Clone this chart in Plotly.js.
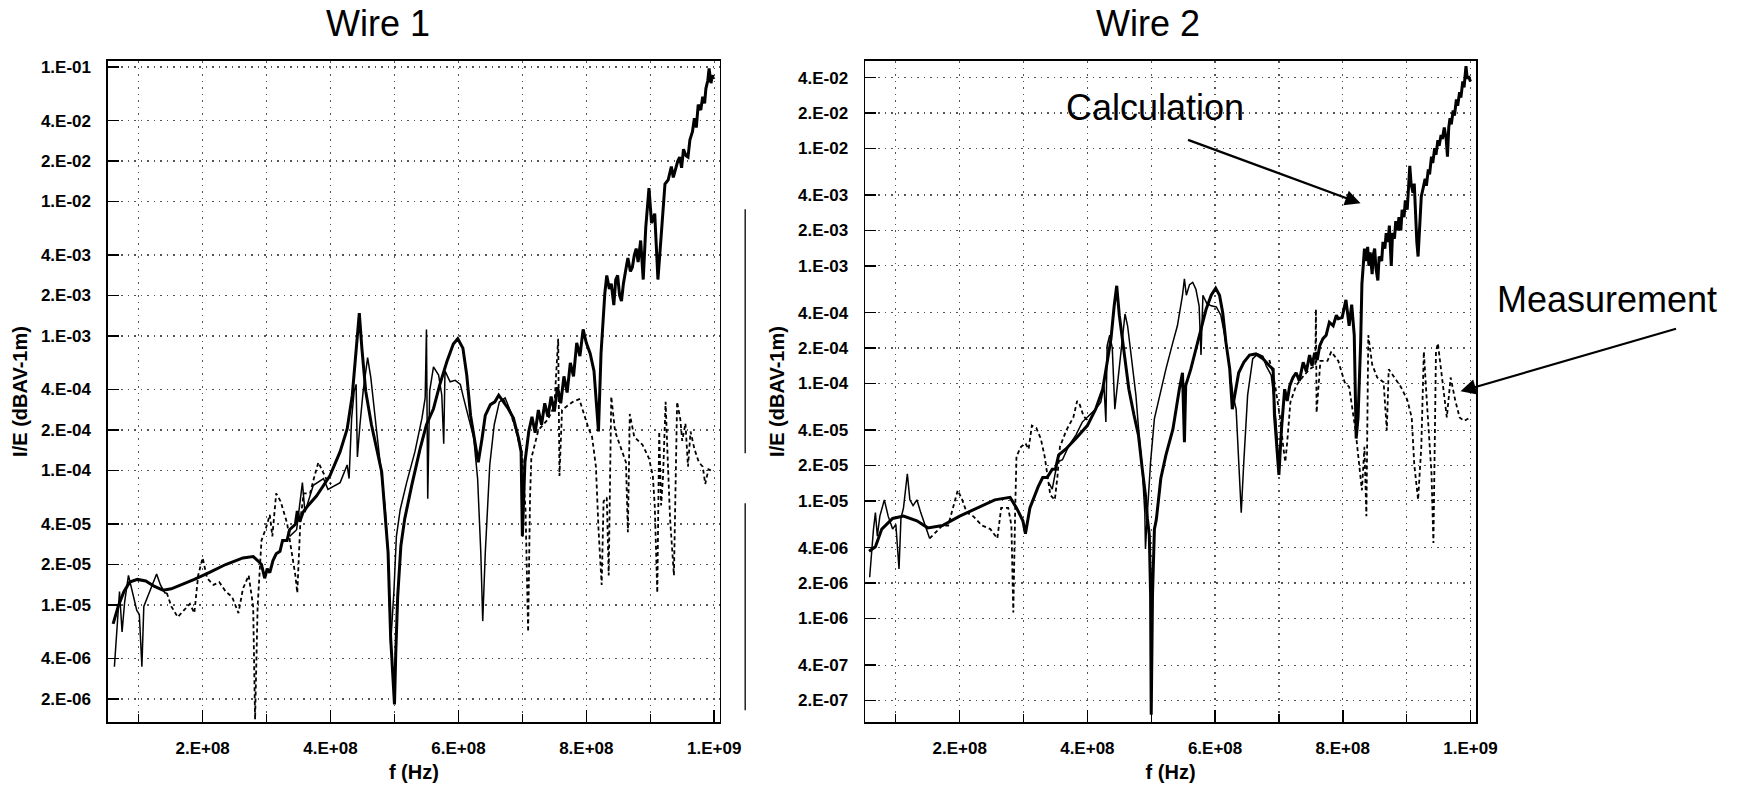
<!DOCTYPE html>
<html>
<head>
<meta charset="utf-8">
<script src="https://cdn.plot.ly/plotly-3.0.1.min.js"></script>
<style>html,body{margin:0;padding:0;background:#fff;}#chart{width:1742px;height:785px;}</style>
</head>
<body>
<div id="chart"></div>
<script>
// ---------- tick labels ----------
const xTickVals = [2e8, 4e8, 6e8, 8e8, 1e9];
const xTickText = ['2.E+08', '4.E+08', '6.E+08', '8.E+08', '1.E+09'];
const xMinorVals = [1e8, 3e8, 5e8, 7e8, 9e8];
const w1YTickVals = [1e-1, 4e-2, 2e-2, 1e-2, 4e-3, 2e-3, 1e-3, 4e-4, 2e-4, 1e-4, 4e-5, 2e-5, 1e-5, 4e-6, 2e-6];
const w1YTickText = ['1.E-01', '4.E-02', '2.E-02', '1.E-02', '4.E-03', '2.E-03', '1.E-03', '4.E-04', '2.E-04', '1.E-04', '4.E-05', '2.E-05', '1.E-05', '4.E-06', '2.E-06'];
const w2YTickVals = [4e-2, 2e-2, 1e-2, 4e-3, 2e-3, 1e-3, 4e-4, 2e-4, 1e-4, 4e-5, 2e-5, 1e-5, 4e-6, 2e-6, 1e-6, 4e-7, 2e-7];
const w2YTickText = ['4.E-02', '2.E-02', '1.E-02', '4.E-03', '2.E-03', '1.E-03', '4.E-04', '2.E-04', '1.E-04', '4.E-05', '2.E-05', '1.E-05', '4.E-06', '2.E-06', '1.E-06', '4.E-07', '2.E-07'];

// ---------- Wire 1 ----------
const w1CalcF = [0.60e8,0.68e8,0.77e8,0.86e8,0.98e8,1.11e8,1.24e8,1.38e8,1.51e8,1.67e8,1.87e8,2.10e8,2.36e8,2.63e8,2.79e8,2.86e8,2.92e8,2.97e8,3.01e8,3.05e8,3.10e8,3.15e8,3.21e8,3.25e8,3.32e8,3.36e8,3.45e8,3.48e8,3.52e8,3.57e8,3.65e8,3.78e8,3.88e8,3.99e8,4.15e8,4.26e8,4.34e8,4.41e8,4.45e8,4.49e8,4.55e8,4.64e8,4.73e8,4.80e8,4.85e8,4.90e8,4.94e8,4.97e8,5.00e8,5.02e8,5.05e8,5.10e8,5.16e8,5.27e8,5.40e8,5.50e8,5.61e8,5.71e8,5.82e8,5.92e8,5.99e8,6.07e8,6.13e8,6.19e8,6.26e8,6.31e8,6.37e8,6.42e8,6.50e8,6.57e8,6.63e8,6.71e8,6.78e8,6.86e8,6.94e8,6.98e8,7.00e8,7.04e8,7.10e8,7.15e8,7.20e8,7.25e8,7.30e8,7.35e8,7.40e8,7.45e8,7.50e8,7.55e8,7.60e8,7.65e8,7.70e8,7.75e8,7.80e8,7.85e8,7.90e8,7.95e8,8.00e8,8.06e8,8.12e8,8.19e8,8.23e8,8.29e8,8.32e8,8.36e8,8.39e8,8.43e8,8.46e8,8.49e8,8.52e8,8.55e8,8.58e8,8.62e8,8.65e8,8.69e8,8.72e8,8.75e8,8.78e8,8.81e8,8.85e8,8.89e8,8.93e8,8.98e8,9.02e8,9.07e8,9.12e8,9.17e8,9.23e8,9.28e8,9.33e8,9.36e8,9.39e8,9.43e8,9.46e8,9.49e8,9.52e8,9.56e8,9.59e8,9.62e8,9.66e8,9.69e8,9.72e8,9.75e8,9.79e8,9.82e8,9.85e8,9.87e8,9.90e8,9.92e8,9.95e8,9.97e8,9.99e8];
const w1CalcV = [7.24e-6,9.8e-6,1.26e-5,1.48e-5,1.55e-5,1.51e-5,1.38e-5,1.29e-5,1.32e-5,1.41e-5,1.55e-5,1.74e-5,2.0e-5,2.24e-5,2.29e-5,2.14e-5,2.0e-5,1.58e-5,1.86e-5,1.74e-5,2.14e-5,2.4e-5,2.51e-5,3.02e-5,3.02e-5,3.63e-5,3.98e-5,5.0e-5,4.17e-5,4.9e-5,5.5e-5,6.46e-5,7.59e-5,9.12e-5,1.38e-4,2.04e-4,3.63e-4,8.71e-4,1.48e-3,8.13e-4,3.89e-4,2.19e-4,1.38e-4,9.77e-5,4.9e-5,2.45e-5,5.75e-6,2.88e-6,1.82e-6,4.37e-6,1.15e-5,2.75e-5,4.37e-5,7.76e-5,1.45e-4,2.19e-4,2.88e-4,4.37e-4,6.46e-4,8.71e-4,9.55e-4,8.13e-4,5.13e-4,2.57e-4,1.55e-4,1.15e-4,1.74e-4,2.57e-4,3.09e-4,3.24e-4,3.63e-4,3.24e-4,2.88e-4,2.45e-4,1.74e-4,1.38e-4,3.24e-5,1.15e-4,1.95e-4,2.51e-4,1.91e-4,2.82e-4,2.19e-4,3.16e-4,2.51e-4,3.55e-4,2.75e-4,4.17e-4,3.16e-4,5.01e-4,3.8e-4,6.31e-4,5.01e-4,8.91e-4,7.08e-4,1.12e-3,8.91e-4,7.41e-4,5.5e-4,1.95e-4,7.41e-4,2.09e-3,2.82e-3,2.24e-3,2.45e-3,1.7e-3,2.63e-3,2.82e-3,2.0e-3,1.82e-3,2.45e-3,3.16e-3,3.8e-3,3.02e-3,3.24e-3,3.98e-3,4.47e-3,3.55e-3,5.13e-3,2.63e-3,6.46e-3,1.26e-2,6.92e-3,8.13e-3,2.63e-3,5.5e-3,1.35e-2,1.45e-2,1.82e-2,1.51e-2,1.7e-2,2.0e-2,2.14e-2,1.78e-2,2.45e-2,2.19e-2,2.14e-2,2.88e-2,3.31e-2,4.17e-2,3.55e-2,5.25e-2,4.79e-2,6.03e-2,5.37e-2,6.92e-2,7.94e-2,9.77e-2,7.59e-2,8.71e-2,8.13e-2];

const w1MeasF = [0.62e8,0.65e8,0.70e8,0.74e8,0.78e8,0.84e8,0.90e8,0.97e8,1.01e8,1.05e8,1.08e8,1.14e8,1.21e8,1.28e8,1.34e8,1.41e8,1.44e8,2.00e8,3.36e8,3.47e8,3.56e8,3.60e8,3.73e8,3.89e8,3.96e8,4.07e8,4.15e8,4.26e8,4.29e8,4.33e8,4.37e8,4.40e8,4.42e8,4.46e8,4.51e8,4.58e8,4.63e8,4.71e8,4.78e8,4.85e8,4.90e8,4.94e8,4.99e8,5.03e8,5.09e8,5.19e8,5.32e8,5.43e8,5.48e8,5.50e8,5.52e8,5.55e8,5.61e8,5.69e8,5.74e8,5.77e8,5.79e8,5.87e8,5.95e8,6.03e8,6.08e8,6.16e8,6.24e8,6.30e8,6.35e8,6.38e8,6.42e8,6.49e8,6.56e8,6.64e8,6.73e8,6.84e8,6.94e8,6.99e8];
const w1MeasV = [3.47e-6,5.75e-6,1.26e-5,6.31e-6,1.05e-5,1.66e-5,1.23e-5,9.12e-6,8.51e-6,3.47e-6,9.77e-6,1.15e-5,1.41e-5,1.7e-5,1.41e-5,1.23e-5,1.23e-5,null,3.24e-5,3.63e-5,8.13e-5,4.9e-5,7.76e-5,8.71e-5,7.24e-5,7.76e-5,8.13e-5,1.1e-4,8.71e-5,2.45e-4,3.89e-4,4.37e-4,1.26e-4,2.19e-4,3.89e-4,6.92e-4,4.9e-4,2.19e-4,1.15e-4,5.5e-5,2.45e-5,5.13e-6,1.23e-5,3.24e-5,5.13e-5,8.13e-5,1.38e-4,2.45e-4,3.47e-4,1.12e-3,6.17e-5,3.89e-4,5.89e-4,5.13e-4,3.63e-4,1.58e-4,5.5e-4,4.57e-4,4.68e-4,4.37e-4,3.47e-4,2.45e-4,1.74e-4,8.71e-5,2.45e-5,7.59e-6,2.45e-5,1.1e-4,2.19e-4,3.24e-4,3.47e-4,2.57e-4,1.74e-4,1.38e-4];

const w1DashF = [1.44e8,1.51e8,1.61e8,1.70e8,1.80e8,1.87e8,1.93e8,2.00e8,2.07e8,2.17e8,2.26e8,2.36e8,2.46e8,2.56e8,2.63e8,2.72e8,2.79e8,2.82e8,2.86e8,2.92e8,2.99e8,3.05e8,3.09e8,3.15e8,3.22e8,3.32e8,3.38e8,3.45e8,3.48e8,3.53e8,3.58e8,3.68e8,3.75e8,3.81e8,3.88e8,3.94e8,4.01e8,5.00e8,6.70e8,6.80e8,6.90e8,7.00e8,7.05e8,7.09e8,7.12e8,7.14e8,7.25e8,7.40e8,7.50e8,7.56e8,7.58e8,7.62e8,7.70e8,7.79e8,7.89e8,7.96e8,8.03e8,8.09e8,8.15e8,8.19e8,8.22e8,8.24e8,8.27e8,8.32e8,8.35e8,8.39e8,8.45e8,8.55e8,8.62e8,8.65e8,8.68e8,8.75e8,8.88e8,8.98e8,9.04e8,9.07e8,9.11e8,9.14e8,9.17e8,9.20e8,9.24e8,9.27e8,9.31e8,9.37e8,9.42e8,9.47e8,9.50e8,9.55e8,9.59e8,9.63e8,9.69e8,9.76e8,9.82e8,9.86e8,9.91e8,9.95e8];
const w1DashV = [1.23e-5,9.77e-6,8.13e-6,9.12e-6,1.02e-5,8.71e-6,1.66e-5,2.24e-5,1.58e-5,1.41e-5,1.48e-5,1.26e-5,1.15e-5,8.71e-6,1.32e-5,1.66e-5,9.77e-6,1.41e-6,9.77e-6,3.02e-5,3.72e-5,4.68e-5,3.24e-5,6.76e-5,5.89e-5,4.07e-5,2.75e-5,1.66e-5,1.23e-5,4.37e-5,6.76e-5,6.76e-5,9.12e-5,1.15e-4,9.77e-5,8.51e-5,7.94e-5,null,3.39e-4,2.82e-4,2.0e-4,1.26e-4,5.0e-5,6.31e-6,6.31e-5,1.23e-4,2.0e-4,2.4e-4,3.02e-4,9.55e-4,9.12e-5,2.82e-4,3.02e-4,3.24e-4,3.39e-4,2.63e-4,2.09e-4,1.78e-4,1.07e-4,3.72e-5,2.04e-5,1.41e-5,5.89e-5,6.31e-5,1.66e-5,3.55e-4,1.95e-4,1.45e-4,1.15e-4,3.47e-5,2.63e-4,1.78e-4,1.55e-4,1.23e-4,9.12e-5,5.5e-5,1.23e-5,1.95e-4,5.5e-5,9.12e-5,3.24e-4,1.32e-4,4.37e-5,1.66e-5,3.24e-4,2.4e-4,1.66e-4,2.24e-4,1.07e-4,1.95e-4,1.45e-4,1.15e-4,1.07e-4,7.94e-5,1.02e-4,1.0e-4];

// ---------- Wire 2 ----------
const w2CalcF = [0.58e8,0.68e8,0.78e8,0.95e8,1.12e8,1.33e8,1.50e8,1.73e8,2.00e8,2.28e8,2.55e8,2.79e8,2.89e8,2.99e8,3.03e8,3.10e8,3.23e8,3.30e8,3.37e8,3.45e8,3.50e8,3.55e8,3.66e8,3.82e8,4.00e8,4.13e8,4.24e8,4.31e8,4.37e8,4.42e8,4.46e8,4.50e8,4.58e8,4.65e8,4.73e8,4.80e8,4.86e8,4.91e8,4.94e8,4.97e8,4.99e8,5.00e8,5.02e8,5.05e8,5.08e8,5.15e8,5.23e8,5.34e8,5.44e8,5.49e8,5.52e8,5.54e8,5.62e8,5.70e8,5.78e8,5.86e8,5.94e8,6.01e8,6.07e8,6.12e8,6.17e8,6.23e8,6.27e8,6.30e8,6.37e8,6.45e8,6.54e8,6.64e8,6.75e8,6.85e8,6.91e8,6.93e8,6.97e8,7.00e8,7.04e8,7.09e8,7.13e8,7.17e8,7.22e8,7.27e8,7.32e8,7.38e8,7.43e8,7.48e8,7.52e8,7.56e8,7.60e8,7.64e8,7.69e8,7.74e8,7.79e8,7.85e8,7.90e8,7.93e8,7.99e8,8.05e8,8.10e8,8.14e8,8.18e8,8.21e8,8.24e8,8.28e8,8.30e8,8.32e8,8.34e8,8.37e8,8.39e8,8.41e8,8.43e8,8.46e8,8.48e8,8.50e8,8.52e8,8.55e8,8.57e8,8.61e8,8.63e8,8.66e8,8.68e8,8.71e8,8.73e8,8.76e8,8.78e8,8.81e8,8.83e8,8.86e8,8.88e8,8.91e8,8.93e8,8.96e8,8.98e8,9.01e8,9.03e8,9.05e8,9.07e8,9.10e8,9.12e8,9.14e8,9.16e8,9.18e8,9.21e8,9.23e8,9.26e8,9.29e8,9.31e8,9.34e8,9.36e8,9.39e8,9.41e8,9.44e8,9.46e8,9.49e8,9.51e8,9.54e8,9.56e8,9.59e8,9.62e8,9.64e8,9.66e8,9.68e8,9.70e8,9.73e8,9.75e8,9.78e8,9.80e8,9.83e8,9.85e8,9.88e8,9.90e8,9.93e8,9.95e8,9.97e8,10.0e8];
const w2CalcV = [3.72e-6,4.07e-6,5.75e-6,7.08e-6,7.41e-6,6.76e-6,5.89e-6,6.17e-6,7.41e-6,8.71e-6,1.02e-5,1.07e-5,8.71e-6,6.76e-6,5.25e-6,8.71e-6,1.32e-5,1.58e-5,1.58e-5,1.86e-5,1.86e-5,2.45e-5,2.75e-5,3.39e-5,4.37e-5,6.03e-5,8.91e-5,1.51e-4,2.4e-4,4.57e-4,6.76e-4,3.8e-4,1.74e-4,8.91e-5,5.37e-5,3.63e-5,1.86e-5,1.12e-5,7.08e-6,5.13e-6,1.58e-6,1.51e-7,1.58e-6,5.75e-6,6.92e-6,1.55e-5,2.45e-5,4.07e-5,8.91e-5,1.23e-4,3.16e-5,9.55e-5,1.32e-4,1.95e-4,2.88e-4,4.27e-4,5.62e-4,6.46e-4,5.62e-4,3.98e-4,2.24e-4,1.32e-4,6.03e-5,7.41e-5,1.23e-4,1.51e-4,1.74e-4,1.78e-4,1.62e-4,1.41e-4,1.32e-4,5.37e-5,2.45e-5,1.66e-5,4.07e-5,8.91e-5,7.08e-5,9.55e-5,1.12e-4,1.23e-4,1.05e-4,1.51e-4,1.26e-4,1.74e-4,1.41e-4,1.82e-4,1.58e-4,2.09e-4,2.4e-4,2.57e-4,3.31e-4,3.09e-4,3.8e-4,3.55e-4,3.63e-4,5.13e-4,3.09e-4,4.68e-4,2.57e-4,3.39e-5,5.13e-5,2.19e-4,7.0e-4,1.0e-3,1.4e-3,1.1e-3,1.45e-3,1.0e-3,1.3e-3,8.5e-4,1.25e-3,1.4e-3,9.5e-4,7.5e-4,1.2e-3,1.1e-3,1.6e-3,1.4e-3,1.9e-3,1.6e-3,2.2e-3,1.0e-3,1.9e-3,1.7e-3,2.4e-3,2.0e-3,2.6e-3,2.0e-3,3.0e-3,2.6e-3,3.6e-3,3.0e-3,4.5e-3,7.1e-3,5.0e-3,4.2e-3,5.0e-3,2.6e-3,1.6e-3,1.2e-3,3.0e-3,3.9e-3,4.6e-3,5.5e-3,4.8e-3,6.6e-3,6.0e-3,8.5e-3,7.5e-3,1.0e-2,8.8e-3,1.17e-2,1.05e-2,1.3e-2,1.2e-2,1.5e-2,1.2e-2,8.5e-3,1.5e-2,1.8e-2,1.6e-2,2.1e-2,1.9e-2,2.6e-2,2.3e-2,3.0e-2,2.7e-2,3.7e-2,3.3e-2,5.0e-2,3.9e-2,4.1e-2,3.7e-2];

const w2MeasF = [0.59e8,0.62e8,0.65e8,0.68e8,0.71e8,0.75e8,0.82e8,0.88e8,0.95e8,1.00e8,1.05e8,1.08e8,1.12e8,1.18e8,1.22e8,1.27e8,1.33e8,1.39e8,1.46e8,1.53e8,2.50e8,3.40e8,3.45e8,3.53e8,3.61e8,3.71e8,3.82e8,3.92e8,4.03e8,4.13e8,4.21e8,4.26e8,4.29e8,4.31e8,4.35e8,4.39e8,4.43e8,4.49e8,4.55e8,4.59e8,4.63e8,4.68e8,4.76e8,4.81e8,4.86e8,4.90e8,4.91e8,4.94e8,4.99e8,5.05e8,5.13e8,5.23e8,5.34e8,5.41e8,5.49e8,5.52e8,5.55e8,5.60e8,5.65e8,5.70e8,5.75e8,5.78e8,5.81e8,5.87e8,5.94e8,6.02e8,6.09e8,6.15e8,6.23e8,6.28e8,6.33e8,6.37e8,6.41e8,6.45e8,6.51e8,6.59e8,6.67e8,6.75e8,6.80e8,6.88e8,6.93e8,6.97e8,7.00e8];
const w2MeasV = [2.24e-6,3.98e-6,5.75e-6,7.94e-6,5.01e-6,7.41e-6,1.02e-5,7.41e-6,5.75e-6,6.31e-6,2.63e-6,7.08e-6,8.71e-6,1.7e-5,1.02e-5,9.12e-6,1.02e-5,7.94e-6,6.17e-6,4.79e-6,null,1.41e-5,1.26e-5,2.14e-5,2.24e-5,2.95e-5,3.63e-5,4.68e-5,5.37e-5,6.03e-5,6.92e-5,9.55e-5,4.68e-5,2.09e-4,2.57e-4,2.0e-4,6.03e-5,1.17e-4,2.57e-4,3.89e-4,3.09e-4,1.74e-4,7.94e-5,3.63e-5,1.86e-5,7.94e-6,3.89e-6,7.94e-6,2.14e-5,5.01e-5,7.94e-5,1.32e-4,2.24e-4,3.09e-4,5.62e-4,7.76e-4,5.62e-4,6.92e-4,7.24e-4,6.31e-4,4.57e-4,1.74e-4,5.62e-4,4.79e-4,4.57e-4,4.47e-4,3.8e-4,2.57e-4,1.32e-4,7.94e-5,6.03e-5,2.14e-5,7.94e-6,2.14e-5,7.94e-5,1.62e-4,1.78e-4,1.7e-4,1.41e-4,1.17e-4,6.92e-5,3.55e-5,1.66e-5];

const w2DashF = [1.53e8,1.60e8,1.73e8,1.82e8,1.90e8,1.97e8,2.04e8,2.11e8,2.21e8,2.35e8,2.48e8,2.59e8,2.65e8,2.76e8,2.81e8,2.84e8,2.87e8,2.89e8,2.96e8,3.03e8,3.08e8,3.13e8,3.20e8,3.27e8,3.33e8,3.37e8,3.42e8,3.49e8,3.53e8,3.57e8,3.67e8,3.78e8,3.84e8,3.88e8,3.94e8,4.01e8,5.00e8,6.85e8,6.90e8,6.95e8,7.02e8,7.07e8,7.10e8,7.13e8,7.18e8,7.27e8,7.38e8,7.48e8,7.57e8,7.58e8,7.59e8,7.65e8,7.76e8,7.82e8,7.93e8,8.03e8,8.10e8,8.20e8,8.27e8,8.30e8,8.34e8,8.37e8,8.40e8,8.46e8,8.54e8,8.64e8,8.69e8,8.72e8,8.81e8,8.91e8,9.01e8,9.08e8,9.12e8,9.18e8,9.23e8,9.27e8,9.32e8,9.39e8,9.42e8,9.46e8,9.49e8,9.56e8,9.63e8,9.69e8,9.76e8,9.83e8,9.90e8,10.0e8];
const w2DashV = [4.79e-6,5.25e-6,6.17e-6,6.17e-6,8.71e-6,1.23e-5,1.02e-5,7.94e-6,7.41e-6,6.17e-6,5.75e-6,4.79e-6,8.71e-6,8.71e-6,6.17e-6,1.12e-6,8.71e-6,2.4e-5,2.88e-5,3.09e-5,2.75e-5,4.37e-5,4.17e-5,3.39e-5,2.4e-5,1.7e-5,1.12e-5,1.02e-5,1.58e-5,2.88e-5,3.98e-5,5.13e-5,7.08e-5,6.61e-5,5.25e-5,4.79e-5,null,1.58e-4,1.26e-4,8.91e-5,5.01e-5,2.82e-5,2.14e-5,3.16e-5,6.92e-5,9.55e-5,1.15e-4,1.32e-4,1.41e-4,4.27e-4,5.62e-5,1.55e-4,1.55e-4,1.86e-4,1.55e-4,1.02e-4,9.33e-5,3.98e-5,1.58e-5,1.23e-5,2.88e-5,7.41e-6,2.57e-4,1.45e-4,1.12e-4,1.02e-4,3.98e-5,1.32e-4,1.12e-4,9.33e-5,7.24e-5,5.13e-5,2.04e-5,1.02e-5,2.88e-5,1.86e-4,6.61e-5,1.7e-5,4.37e-6,1.86e-4,2.19e-4,1.02e-4,5.13e-5,1.12e-4,7.24e-5,5.13e-5,4.79e-5,5.13e-5];

// ---------- traces ----------
const K = 'black';
const dashStyle = {color: K, width: 1.8, dash: '4px,3px'};
const thinStyle = {color: K, width: 1.5};
const thickStyle = {color: K, width: 3};
const traces = [
  {x: w1DashF, y: w1DashV, xaxis: 'x', yaxis: 'y', mode: 'lines', line: dashStyle, connectgaps: false, name: 'Measurement'},
  {x: w1MeasF, y: w1MeasV, xaxis: 'x', yaxis: 'y', mode: 'lines', line: thinStyle, connectgaps: false, name: 'Measurement'},
  {x: w1CalcF, y: w1CalcV, xaxis: 'x', yaxis: 'y', mode: 'lines', line: thickStyle, name: 'Calculation'},
  {x: w2DashF, y: w2DashV, xaxis: 'x2', yaxis: 'y2', mode: 'lines', line: dashStyle, connectgaps: false, name: 'Measurement'},
  {x: w2MeasF, y: w2MeasV, xaxis: 'x2', yaxis: 'y2', mode: 'lines', line: thinStyle, connectgaps: false, name: 'Measurement'},
  {x: w2CalcF, y: w2CalcV, xaxis: 'x2', yaxis: 'y2', mode: 'lines', line: thickStyle, name: 'Calculation'}
];

// ---------- layout ----------
const FONT = 'Liberation Sans, Arial, Helvetica, sans-serif';
const tickFont = {family: FONT, size: 17, weight: 'bold', color: K};
const axTitleFont = {family: FONT, size: 20, weight: 'bold', color: K};
const gridCommon = {showgrid: true, gridcolor: '#555', gridwidth: 1.2, griddash: '1.5px,5px'};

function xAxis(domain, anchor) {
  return Object.assign({
    domain: domain, anchor: anchor, type: 'linear', range: [0.52e8, 10.087e8],
    tickmode: 'array', tickvals: xTickVals, ticktext: xTickText,
    ticks: 'inside', ticklen: 12, tickwidth: 1.5, tickcolor: K,
    showline: true, mirror: true, linecolor: K, linewidth: 1.6, zeroline: false,
    tickfont: tickFont, ticklabelstandoff: 10,
    minor: {tickvals: xMinorVals, ticks: 'inside', ticklen: 8, tickwidth: 1.2, tickcolor: K,
            showgrid: true, gridcolor: '#555', gridwidth: 1.2, griddash: '1.5px,5px'},
    title: {text: 'f (Hz)', font: axTitleFont, standoff: 8}
  }, gridCommon);
}
function yAxis(domain, anchor, range, vals, text) {
  return Object.assign({
    domain: domain, anchor: anchor, type: 'log', range: range,
    tickmode: 'array', tickvals: vals, ticktext: text,
    ticks: 'inside', ticklen: 11, tickwidth: 1.5, tickcolor: K,
    showline: true, mirror: true, linecolor: K, linewidth: 1.6, zeroline: false,
    tickfont: tickFont, ticklabelstandoff: 12,
    title: {text: 'I/E (dBAV-1m)', font: axTitleFont, standoff: 8}
  }, gridCommon);
}

const bigFont = {family: FONT, size: 36, color: K};
const layout = {
  width: 1742, height: 785,
  margin: {l: 108, r: 265.5, t: 60.7, b: 63.3},
  paper_bgcolor: 'white', plot_bgcolor: 'white',
  showlegend: false,
  xaxis: xAxis([0, 0.4472], 'y'),
  yaxis: yAxis([0, 1], 'x', [-5.870, -0.955], w1YTickVals, w1YTickText),
  xaxis2: xAxis([0.5535, 1], 'y2'),
  yaxis2: yAxis([0, 1], 'x2', [-6.882, -1.257], w2YTickVals, w2YTickText),
  annotations: [
    {xref: 'paper', yref: 'paper', x: 0.1973, y: 1.0573, text: 'Wire 1', showarrow: false, font: bigFont, xanchor: 'center', yanchor: 'middle'},
    {xref: 'paper', yref: 'paper', x: 0.7600, y: 1.0573, text: 'Wire 2', showarrow: false, font: bigFont, xanchor: 'center', yanchor: 'middle'},
    {xref: 'paper', yref: 'paper', x: 0.7651, y: 0.9304, text: 'Calculation', showarrow: false, font: bigFont, xanchor: 'center', yanchor: 'middle'},
    {xref: 'paper', yref: 'paper', x: 1.0961, y: 0.6395, text: 'Measurement', showarrow: false, font: bigFont, xanchor: 'center', yanchor: 'middle'},
    {xref: 'paper', yref: 'paper', x: 0.9156, y: 0.7847, text: '', showarrow: true, ax: -174, ay: -64, arrowhead: 2, arrowsize: 1.4, arrowwidth: 2.2, arrowcolor: K},
    {xref: 'paper', yref: 'paper', x: 0.9887, y: 0.5003, text: '', showarrow: true, ax: 217, ay: -63, arrowhead: 2, arrowsize: 1.4, arrowwidth: 2.2, arrowcolor: K}
  ],
  shapes: [
    {type: 'line', xref: 'paper', yref: 'paper', x0: 0.4658, x1: 0.4658, y0: 0.4065, y1: 0.7756, line: {color: '#222', width: 1.5}},
    {type: 'line', xref: 'paper', yref: 'paper', x0: 0.4658, x1: 0.4658, y0: 0.0177, y1: 0.3309, line: {color: '#222', width: 1.5}}
  ]
};

Plotly.newPlot('chart', traces, layout, {staticPlot: true, displayModeBar: false});
</script>
</body>
</html>
